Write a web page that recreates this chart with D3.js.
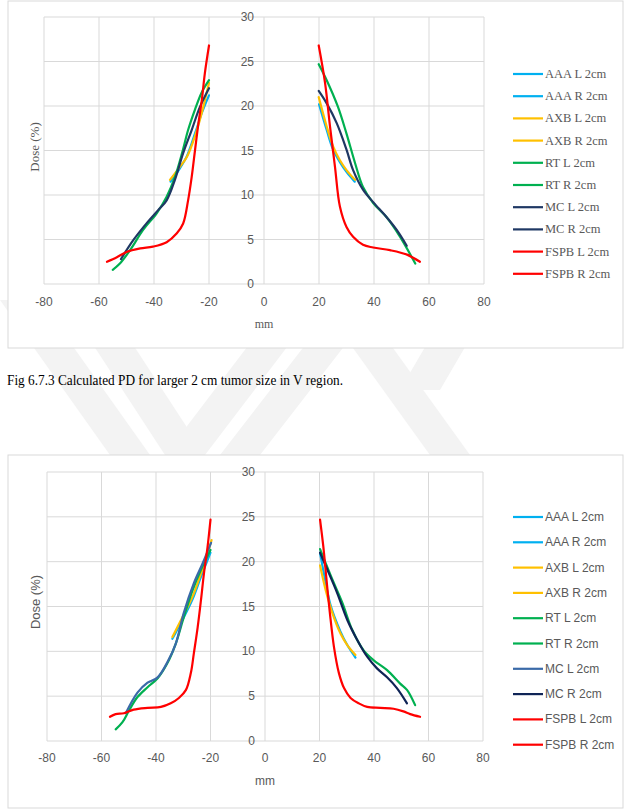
<!DOCTYPE html>
<html>
<head>
<meta charset="utf-8">
<script src="https://cdn.jsdelivr.net/npm/d3@7"></script>
<style>
  html, body { margin: 0; padding: 0; background: #fff; }
  svg { display: block; }
</style>
</head>
<body>
<div id="chart"></div>
<script>
// Daten
const xTicks = [-80, -60, -40, -20, 0, 20, 40, 60, 80];
const yTicks = [0, 5, 10, 15, 20, 25, 30];
const seriesNames = ["AAA L 2cm", "AAA R 2cm", "AXB L 2cm", "AXB R 2cm", "RT L 2cm",
                     "RT R 2cm", "MC L 2cm", "MC R 2cm", "FSPB L 2cm", "FSPB R 2cm"];
const colorsTop = ["#00b0f0", "#00b0f0", "#ffc000", "#ffc000", "#00b050",
                   "#00b050", "#1f3864", "#1f3864", "#ff0000", "#ff0000"];
const colorsBottom = ["#00b0f0", "#00b0f0", "#ffc000", "#ffc000", "#00b050",
                      "#00b050", "#3a6aa8", "#0f2456", "#ff0000", "#ff0000"];

// Diagramm 1 (oben)
const top_AAA_L = [[-34,11.5],[-31,12.8],[-28,14.4],[-25,17],[-22.5,19.3],[-20,21.2]];
const top_AAA_R = [[20,20.2],[22.8,17.3],[25,15.2],[27.6,13.7],[30,12.6],[33,11.5]];
const top_AXB_L = [[-34.2,11.7],[-31,13],[-28,14.3],[-26,15.8],[-24,17.7],[-22,20],[-20,22.6]];
const top_AXB_R = [[19.9,21],[22.8,17.7],[25.2,15.4],[27.6,13.9],[30,12.8],[33.1,11.7]];
const top_RT_L = [[-55,1.6],[-52.4,2.3],[-48.7,3.8],[-43.9,6.1],[-38.9,8],[-35.4,9.8],[-32.4,12],
                  [-29.8,14.7],[-27.6,17.3],[-25.1,19.6],[-22.7,21.5],[-20,22.9]];
const top_RT_R = [[19.9,24.7],[22.8,22.9],[26.9,19.9],[30,16.9],[33.1,13.6],[36,10.9],[39.7,9.1],
                  [44.6,7.5],[49.5,5.3],[55,2.3]];
const top_MC_L = [[-52,2.8],[-47.6,4.9],[-42.5,6.9],[-38.5,8.3],[-35.4,9.4],[-32.4,11.7],[-29.4,14.7],
                  [-26.3,17.3],[-23.3,19.9],[-20,22]];
const top_MC_R = [[19.9,21.7],[22.8,20.3],[26.4,18.1],[30,15.1],[32.4,12.8],[36,10.6],[39.7,9.2],
                  [44.6,7.5],[48.2,6.1],[51.9,4.3]];
const top_FSPB_L = [[-57.1,2.5],[-53.5,3],[-50,3.6],[-45,4],[-40.4,4.2],[-35.4,4.7],[-31.7,5.7],
                    [-29.4,6.8],[-27.6,9.4],[-26.3,12],[-25.1,15],[-24,17.7],[-22.6,20.7],[-21.5,23.7],[-20,26.8]];
const top_FSPB_R = [[19.9,26.8],[22.2,22.6],[24,17.7],[25.8,13.2],[27.6,8.7],[30,6.4],[32.4,5.3],
                    [36,4.4],[39.7,4.1],[45.8,3.8],[52,3.3],[56.7,2.5]];

// Diagramm 2 (unten)
const bot_AAA_L = [[-34,11.4],[-30.3,13.5],[-26.6,15.8],[-23.5,18.3],[-20,21]];
const bot_AAA_R = [[20.2,21],[22.3,17.6],[24.1,15.1],[27.7,12.2],[30.2,10.7],[33.2,9.3]];
const bot_AXB_L = [[-34,11.6],[-30.3,13.8],[-26.6,16.1],[-23.5,18.7],[-19.6,22.4]];
const bot_AXB_R = [[20.2,19.6],[22.3,16.8],[24.7,14.3],[27.7,12],[30.2,10.7],[33.2,9.6]];
const bot_RT_L = [[-54.8,1.3],[-52.3,2.1],[-49.9,3.4],[-46.8,4.9],[-43.1,6],[-39.4,7],[-35.8,8.7],
                  [-32.7,10.9],[-29.8,13.8],[-26.6,16.8],[-23.5,19.1],[-20,21.3]];
const bot_RT_R = [[20.2,21.4],[22.3,19.8],[25.3,17.6],[28.4,15.4],[32,12.4],[36.2,10.1],[39.9,9],
                  [44.8,7.9],[49.6,6.4],[52.1,5.7],[55.1,4]];
const bot_MC_L = [[-51.1,3.1],[-46.8,5.4],[-43.1,6.5],[-39.4,7.1],[-35.8,8.8],[-32.7,10.9],[-29.8,14.3],
                  [-26.1,17.6],[-22.9,19.8],[-19.8,22.1]];
const bot_MC_R = [[20.2,21],[22.9,19.1],[26.5,16.5],[30.2,13.5],[33.8,11.3],[37.5,9.4],[41.1,8.1],
                  [44.8,7.1],[48.4,5.9],[52.1,4.2]];
const bot_FSPB_L = [[-56.9,2.7],[-54.8,3],[-51.8,3.1],[-48.2,3.5],[-43.1,3.7],[-38.2,3.8],[-34.6,4.2],
                    [-31.6,4.8],[-29,5.7],[-27.2,7.6],[-26.1,9.8],[-24.7,12.7],[-23.5,15.7],[-22.4,18.7],
                    [-21.1,21.6],[-20,24.7]];
const bot_FSPB_R = [[20.2,24.7],[21.4,21.7],[22.6,17.9],[23.8,14.3],[25.3,10.5],[27.1,7.6],[29,5.9],
                    [31.4,4.8],[34.4,4.2],[37.5,3.8],[42.3,3.7],[47.2,3.6],[50.8,3.3],[53.3,3],[56.9,2.7]];

const topSeries = [top_AAA_L, top_AAA_R, top_AXB_L, top_AXB_R, top_RT_L,
                   top_RT_R, top_MC_L, top_MC_R, top_FSPB_L, top_FSPB_R];
const botSeries = [bot_AAA_L, bot_AAA_R, bot_AXB_L, bot_AXB_R, bot_RT_L,
                   bot_RT_R, bot_MC_L, bot_MC_R, bot_FSPB_L, bot_FSPB_R];

const W = 629, H = 810;
const svg = d3.select("#chart").append("svg").attr("width", W).attr("height", H);

// Wasserzeichen (grob)
const wm = svg.append("g").attr("fill", "#f3f3f3");
[
  [[0,300],[40,300],[150,455],[110,455]],
  [[90,340],[130,340],[205,455],[165,455]],
  [[165,455],[205,455],[300,330],[260,330]],
  [[220,455],[260,455],[380,300],[340,300]],
  [[340,330],[380,330],[470,455],[430,455]],
  [[400,390],[440,390],[475,330],[435,330]]
].forEach(p => wm.append("polygon").attr("points", p.map(d => d.join(",")).join(" ")));

function drawChart(cfg) {
  const g = svg.append("g");

  g.append("rect")
    .attr("x", cfg.frame[0]).attr("y", cfg.frame[1])
    .attr("width", cfg.frame[2] - cfg.frame[0]).attr("height", cfg.frame[3] - cfg.frame[1])
    .attr("fill", "#fff").attr("stroke", "#d9d9d9").attr("stroke-width", 1);

  const x = d3.scaleLinear().domain([-80, 80]).range([cfg.plot[0], cfg.plot[2]]);
  const y = d3.scaleLinear().domain([0, 30]).range([cfg.plot[3], cfg.plot[1]]);

  // Gitter
  g.append("g").selectAll("line").data(xTicks).join("line")
    .attr("x1", d => x(d)).attr("x2", d => x(d))
    .attr("y1", y(0)).attr("y2", y(30))
    .attr("stroke", "#d9d9d9").attr("stroke-width", 1);
  g.append("g").selectAll("line").data(yTicks).join("line")
    .attr("x1", x(-80)).attr("x2", x(80))
    .attr("y1", d => y(d)).attr("y2", d => y(d))
    .attr("stroke", "#d9d9d9").attr("stroke-width", 1);

  // Achsenbeschriftung
  g.append("g").selectAll("text").data(xTicks).join("text")
    .attr("x", d => x(d)).attr("y", y(0) + cfg.xLabDy)
    .attr("text-anchor", "middle")
    .style("font-family", "Liberation Sans, Arial, sans-serif").style("font-size", "12px")
    .style("fill", "#595959")
    .text(d => d);
  g.append("g").selectAll("text").data(yTicks).join("text")
    .attr("x", x(0) - 10).attr("y", d => y(d) + 4)
    .attr("text-anchor", "end")
    .style("font-family", "Liberation Sans, Arial, sans-serif").style("font-size", "12px")
    .style("fill", "#595959")
    .text(d => d);

  g.append("text")
    .attr("x", x(0)).attr("y", y(0) + cfg.mmDy)
    .attr("text-anchor", "middle")
    .style("font-family", cfg.font).style("font-size", "12px").style("fill", "#595959")
    .text("mm");
  g.append("text")
    .attr("transform", `translate(${cfg.doseX},${cfg.doseY}) rotate(-90)`)
    .attr("text-anchor", "middle")
    .style("font-family", cfg.font).style("font-size", cfg.doseSize).style("fill", "#595959")
    .text("Dose (%)");

  // Kurven
  const line = d3.line().x(d => x(d[0])).y(d => y(d[1])).curve(d3.curveCatmullRom.alpha(0.5));
  const order = [0, 1, 2, 3, 4, 5, 6, 7, 8, 9];
  g.append("g").selectAll("path").data(order).join("path")
    .attr("d", i => line(cfg.series[i]))
    .attr("fill", "none")
    .attr("stroke", i => cfg.colors[i])
    .attr("stroke-width", 2.2)
    .attr("stroke-linecap", "round").attr("stroke-linejoin", "round");

  // Legende
  const lg = g.append("g").selectAll("g").data(seriesNames).join("g")
    .attr("transform", (d, i) => `translate(${cfg.legX},${cfg.legY + i * cfg.legStep})`);
  lg.append("line").attr("x1", 0).attr("x2", 30).attr("y1", 0).attr("y2", 0)
    .attr("stroke", (d, i) => cfg.colors[i]).attr("stroke-width", 2.2);
  lg.append("text").attr("x", 32).attr("y", 4)
    .style("font-family", cfg.font).style("font-size", cfg.legSize).style("fill", "#595959")
    .text(d => d);
}

drawChart({
  frame: [8, 1, 623, 348], plot: [44, 17, 484, 284],
  series: topSeries, colors: colorsTop,
  font: "Liberation Serif, Times New Roman, serif",
  xLabDy: 22, mmDy: 44, doseX: 39, doseY: 147, doseSize: "13px",
  legX: 513, legY: 74, legStep: 22.2, legSize: "12.5px"
});

drawChart({
  frame: [8, 455, 623, 808], plot: [47, 472, 483, 741],
  series: botSeries, colors: colorsBottom,
  font: "Liberation Sans, Arial, sans-serif",
  xLabDy: 21, mmDy: 44, doseX: 40, doseY: 602, doseSize: "13px",
  legX: 513, legY: 517, legStep: 25.3, legSize: "12px"
});

// Bildunterschrift
svg.append("text")
  .attr("x", 7).attr("y", 385)
  .attr("textLength", 336).attr("lengthAdjust", "spacingAndGlyphs")
  .style("font-family", "Liberation Serif, Times New Roman, serif").style("font-size", "15px")
  .style("fill", "#000")
  .text("Fig 6.7.3 Calculated PD for larger 2 cm tumor size in V region.");
</script>
</body>
</html>
